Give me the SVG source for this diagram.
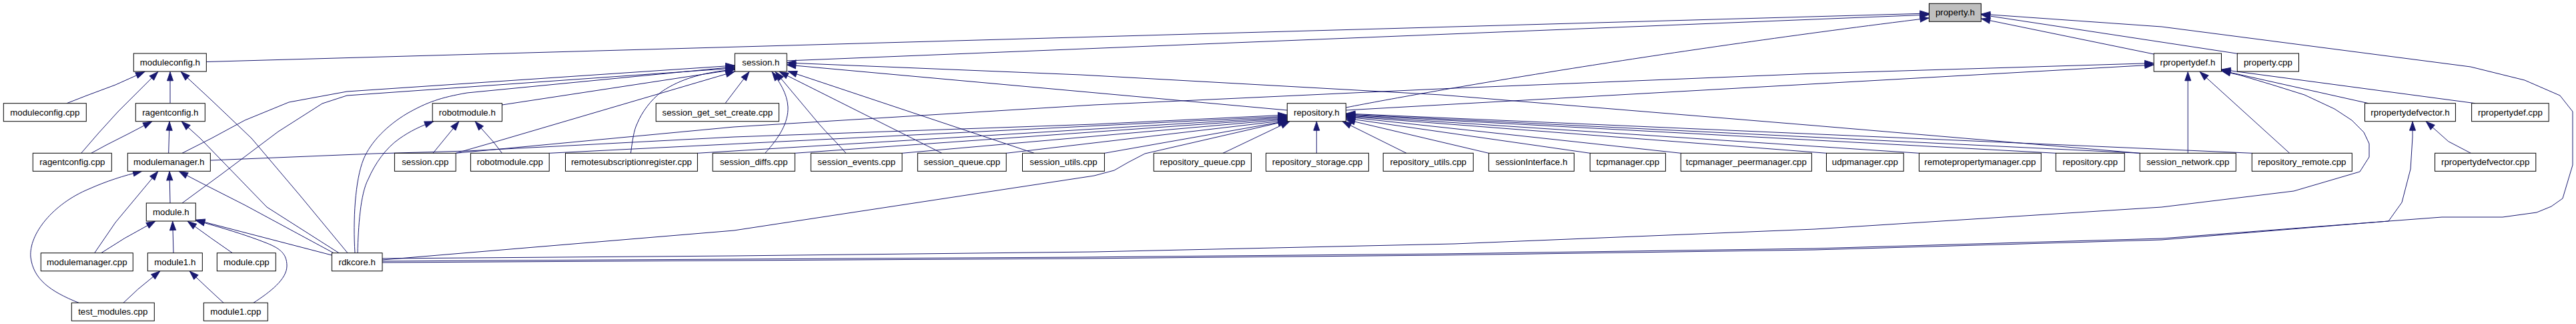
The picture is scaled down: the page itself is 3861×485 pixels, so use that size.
<svg xmlns="http://www.w3.org/2000/svg" width="3861" height="485" viewBox="0 0 3861 485">
<style>
.n rect{fill:#fff;stroke:#000;stroke-width:1}
.n text{font-family:"Liberation Sans",Arial,Helvetica,sans-serif;font-size:13.3px;fill:#000;text-anchor:middle}
#property_h rect{fill:#bfbfbf}
.e path{fill:none;stroke:#191970;stroke-width:1;stroke-linejoin:round;marker-end:url(#a)}
</style>
<defs>
<marker id="a" markerUnits="userSpaceOnUse" markerWidth="16" markerHeight="12" refX="13.5" refY="4.5" orient="auto" overflow="visible">
<path d="M0,0 L13,4.5 L0,9 z" fill="#191970" stroke="#191970" stroke-width="1"/>
</marker>
</defs>
<rect x="0" y="0" width="3861" height="485" fill="#fff"/>
<g id="edges" class="e">
<path d="M309.3,92.5 L2891.4,20"/>
<path d="M1179.3,91 L2891.4,22"/>
<path d="M2017.3,161 C2150,135 2500,75 2891.4,27"/>
<path d="M3228.3,81 L2969.3,28"/>
<path d="M3355,80.5 L2969.3,22"/>
<path d="M573,391 L1620,385 L2160,380 L2720,372 L3240,357 L3580,331 L3660,325 L3751,325 L3802,318 L3824,309 L3841,297 L3856,247 L3856,167 L3837,143 L3784,120 L3703,100 L3240,40 L2969.3,21"/>
<path d="M573,393 L1620,387 L2160,382 L2720,374 L3240,359 L3580,331 L3600,303 L3613,253 L3616,205 L3616,181.7"/>
<path d="M573,387 L1100,383 L1640,377 L2180,365 L2720,343 L3240,310 L3438,286 L3537,257 L3551,235 L3551,215 L3543,198 L3525,180 L3499,163 L3454,142 L3406,127 L3359,113 L3329.5,106"/>
<path d="M573,389 L1100,345 L1640,263 L1670,255 L1691,243 L1716,230 L1929.3,181"/>
<path d="M532,378.7 C529,330 532,270 545,238 C556,212 580,188 610,170 C640,153 660,146 700,139 L1101.4,100"/>
<path d="M536,378.7 C537,340 540,290 552,268 C562,245 578,222 598,208 C615,196 630,189 650,181.7"/>
<path d="M521,378.7 L450,293 L377,207 L317,150 L271,107.3"/>
<path d="M508,378.7 L400,310 L300,207 L272,181.7"/>
<path d="M500,378.7 L367,307 L300,273 L268,256.3"/>
<path d="M497.4,382 L293.3,329"/>
<path d="M100,154.7 L130,143 L173,127 L217,107.3"/>
<path d="M121.7,229.3 L147,200 L177,167 L237,107.3"/>
<path d="M255,154.7 L255,107.3"/>
<path d="M136.7,229.3 L160,216.7 L193,200 L228,181.7"/>
<path d="M252.7,229.3 L254,181.7"/>
<path d="M118,453.3 C75,436 50,418 46,385 C43,350 80,305 133,283 C160,271 185,263 213,256.3"/>
<path d="M141.7,378.7 L173,333 L237,256.3"/>
<path d="M255,304 L254,256.3"/>
<path d="M151.7,378.7 L186.7,356.7 L233,331"/>
<path d="M260,378.7 L258.7,331"/>
<path d="M348.3,378.7 L316.7,356.7 L281,331"/>
<path d="M380,453.3 C405,437 430,418 430,398 C430,380 420,372 400,364 C370,352 330,340 293.3,330"/>
<path d="M185,453.3 L206.7,433 L240,405.7"/>
<path d="M335,453.3 L313,433 L284,405.7"/>
<path d="M649,229.3 L688,181.7"/>
<path d="M752.5,229.3 L740,213 L712,181.7"/>
<path d="M273,229.3 L317,207 L367,180 L433,153 L520,137 L1101.4,98"/>
<path d="M273,304 L333,260 L417,197 L483,155 L520,143 L1101.4,102"/>
<path d="M752.5,157 L1101.4,104"/>
<path d="M683.2,229.3 L740,213 L1101.4,107"/>
<path d="M945.4,229.3 C948,210 950,195 955,185 C962,168 975,150 992,137 C1020,118 1055,108 1101.4,104"/>
<path d="M1087,154.7 L1123,107.3"/>
<path d="M1146.7,229.3 C1168,206 1182,183 1181,160 C1180,140 1168,122 1157,107.3"/>
<path d="M1268,229.3 C1255,214 1240,200 1228,186 L1162,107.3"/>
<path d="M1411.7,229.3 L1168,107.3"/>
<path d="M1550,229.3 L1181,106.5"/>
<path d="M1929.3,165 L1179.3,97"/>
<path d="M3207.3,229.3 L2720,188 L2160,142 L1620,112 L1179.3,94"/>
<path d="M2231.4,229.3 L2017.3,179"/>
<path d="M2383.2,229.3 L2017.3,177"/>
<path d="M2519.3,229.3 L2017.3,175"/>
<path d="M2737.5,229.3 L2017.3,174"/>
<path d="M2876.4,229.3 L2017.3,173"/>
<path d="M3081.4,229.3 L2017.3,172"/>
<path d="M3207.3,229.3 L2017.3,171"/>
<path d="M3375.3,229.3 L2017.3,170"/>
<path d="M1833,229.3 L1933,181.7"/>
<path d="M1973.3,229.3 L1973.3,181.7"/>
<path d="M2108,229.3 L2012,181.7"/>
<path d="M315.3,240 L560,230 L700,226 L1100,205 L1640,186 L1929.3,172"/>
<path d="M823.2,229.3 L1929.3,174"/>
<path d="M1045.4,229.3 L1929.3,175.5"/>
<path d="M1191.4,229.3 L1929.3,177"/>
<path d="M1352.1,229.3 L1929.3,178.5"/>
<path d="M1508.2,229.3 L1929.3,180"/>
<path d="M1655.4,229.3 L1929.3,181"/>
<path d="M2017.3,165 L3228.3,97"/>
<path d="M683.2,229.3 L1100,190 L1640,157 L2180,132 L2720,110 L3228.3,94.5"/>
<path d="M3279.3,229.3 L3279.3,107.3"/>
<path d="M3431.7,229.3 L3297,107.3"/>
<path d="M3550,154.7 L3329.5,105.5"/>
<path d="M3710,154.7 L3329.5,104"/>
<path d="M3703.4,229.3 L3669.7,211.7 L3636,181.7"/>
</g>
<g id="property_h" class="n"><rect x="2891.4" y="5.3" width="77.9" height="27"/><text x="2930.35" y="23.1">property.h</text></g>
<g id="moduleconfig_h" class="n"><rect x="200.3" y="80" width="109" height="27"/><text x="254.8" y="97.8">moduleconfig.h</text></g>
<g id="session_h" class="n"><rect x="1101.4" y="80" width="77.9" height="27"/><text x="1140.35" y="97.8">session.h</text></g>
<g id="rpropertydef_h" class="n"><rect x="3228.3" y="80" width="101.2" height="27"/><text x="3278.9" y="97.8">rpropertydef.h</text></g>
<g id="property_cpp" class="n"><rect x="3353.3" y="80" width="92.2" height="27"/><text x="3399.4" y="97.8">property.cpp</text></g>
<g id="moduleconfig_cpp" class="n"><rect x="5.3" y="154.7" width="124" height="27"/><text x="67.3" y="172.5">moduleconfig.cpp</text></g>
<g id="ragentconfig_h" class="n"><rect x="203.3" y="154.7" width="104" height="27"/><text x="255.3" y="172.5">ragentconfig.h</text></g>
<g id="robotmodule_h" class="n"><rect x="648.2" y="154.7" width="104.3" height="27"/><text x="700.35" y="172.5">robotmodule.h</text></g>
<g id="session_get_set_create_cpp" class="n"><rect x="983.2" y="154.7" width="184.3" height="27"/><text x="1075.35" y="172.5">session_get_set_create.cpp</text></g>
<g id="repository_h" class="n"><rect x="1929.3" y="154.7" width="88" height="27"/><text x="1973.3" y="172.5">repository.h</text></g>
<g id="rpropertydefvector_h" class="n"><rect x="3544.5" y="154.7" width="135.9" height="27"/><text x="3612.45" y="172.5">rpropertydefvector.h</text></g>
<g id="rpropertydef_cpp" class="n"><rect x="3704.6" y="154.7" width="115.6" height="27"/><text x="3762.4" y="172.5">rpropertydef.cpp</text></g>
<g id="ragentconfig_cpp" class="n"><rect x="49.3" y="229.3" width="118" height="27"/><text x="108.3" y="247.1">ragentconfig.cpp</text></g>
<g id="modulemanager_h" class="n"><rect x="191.3" y="229.3" width="124" height="27"/><text x="253.3" y="247.1">modulemanager.h</text></g>
<g id="session_cpp" class="n"><rect x="591.4" y="229.3" width="91.8" height="27"/><text x="637.3" y="247.1">session.cpp</text></g>
<g id="robotmodule_cpp" class="n"><rect x="705.4" y="229.3" width="117.8" height="27"/><text x="764.3" y="247.1">robotmodule.cpp</text></g>
<g id="remotesubscriptionregister_cpp" class="n"><rect x="847.5" y="229.3" width="197.9" height="27"/><text x="946.45" y="247.1">remotesubscriptionregister.cpp</text></g>
<g id="session_diffs_cpp" class="n"><rect x="1068.2" y="229.3" width="123.2" height="27"/><text x="1129.8" y="247.1">session_diffs.cpp</text></g>
<g id="session_events_cpp" class="n"><rect x="1215.4" y="229.3" width="136.7" height="27"/><text x="1283.75" y="247.1">session_events.cpp</text></g>
<g id="session_queue_cpp" class="n"><rect x="1375.4" y="229.3" width="132.8" height="27"/><text x="1441.8" y="247.1">session_queue.cpp</text></g>
<g id="session_utils_cpp" class="n"><rect x="1532.5" y="229.3" width="122.9" height="27"/><text x="1593.95" y="247.1">session_utils.cpp</text></g>
<g id="repository_queue_cpp" class="n"><rect x="1729.3" y="229.3" width="146.1" height="27"/><text x="1802.35" y="247.1">repository_queue.cpp</text></g>
<g id="repository_storage_cpp" class="n"><rect x="1897.5" y="229.3" width="153.9" height="27"/><text x="1974.45" y="247.1">repository_storage.cpp</text></g>
<g id="repository_utils_cpp" class="n"><rect x="2073.2" y="229.3" width="135" height="27"/><text x="2140.7" y="247.1">repository_utils.cpp</text></g>
<g id="sessionInterface_h" class="n"><rect x="2231.4" y="229.3" width="127.9" height="27"/><text x="2295.35" y="247.1">sessionInterface.h</text></g>
<g id="tcpmanager_cpp" class="n"><rect x="2383.2" y="229.3" width="113.2" height="27"/><text x="2439.8" y="247.1">tcpmanager.cpp</text></g>
<g id="tcpmanager_peermanager_cpp" class="n"><rect x="2519.3" y="229.3" width="196.1" height="27"/><text x="2617.35" y="247.1">tcpmanager_peermanager.cpp</text></g>
<g id="udpmanager_cpp" class="n"><rect x="2737.5" y="229.3" width="115.7" height="27"/><text x="2795.35" y="247.1">udpmanager.cpp</text></g>
<g id="remotepropertymanager_cpp" class="n"><rect x="2876.4" y="229.3" width="182.9" height="27"/><text x="2967.85" y="247.1">remotepropertymanager.cpp</text></g>
<g id="repository_cpp" class="n"><rect x="3081.4" y="229.3" width="102.9" height="27"/><text x="3132.85" y="247.1">repository.cpp</text></g>
<g id="session_network_cpp" class="n"><rect x="3207.3" y="229.3" width="144" height="27"/><text x="3279.3" y="247.1">session_network.cpp</text></g>
<g id="repository_remote_cpp" class="n"><rect x="3375.3" y="229.3" width="150" height="27"/><text x="3450.3" y="247.1">repository_remote.cpp</text></g>
<g id="rpropertydefvector_cpp" class="n"><rect x="3649.5" y="229.3" width="151.3" height="27"/><text x="3725.15" y="247.1">rpropertydefvector.cpp</text></g>
<g id="module_h" class="n"><rect x="219.3" y="304" width="74" height="27"/><text x="256.3" y="321.8">module.h</text></g>
<g id="modulemanager_cpp" class="n"><rect x="61.3" y="378.7" width="138" height="27"/><text x="130.3" y="396.5">modulemanager.cpp</text></g>
<g id="module1_h" class="n"><rect x="221.3" y="378.7" width="82" height="27"/><text x="262.3" y="396.5">module1.h</text></g>
<g id="module_cpp" class="n"><rect x="325.3" y="378.7" width="88" height="27"/><text x="369.3" y="396.5">module.cpp</text></g>
<g id="rdkcore_h" class="n"><rect x="497.4" y="378.7" width="75.6" height="27"/><text x="535.2" y="396.5">rdkcore.h</text></g>
<g id="test_modules_cpp" class="n"><rect x="107.3" y="453.3" width="124" height="27"/><text x="169.3" y="471.1">test_modules.cpp</text></g>
<g id="module1_cpp" class="n"><rect x="305.3" y="453.3" width="96" height="27"/><text x="353.3" y="471.1">module1.cpp</text></g>
</svg>
